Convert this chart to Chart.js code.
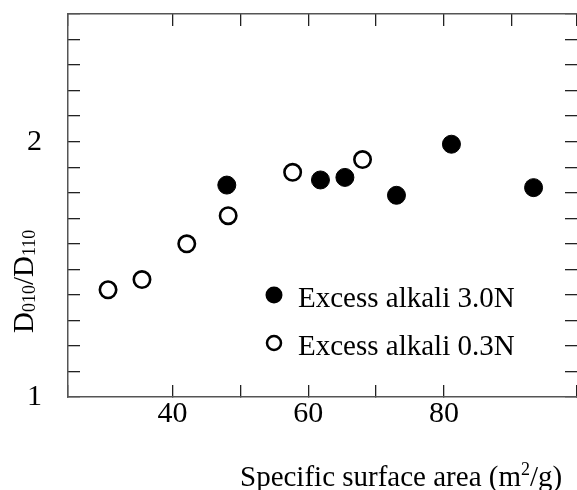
<!DOCTYPE html>
<html>
<head>
<meta charset="utf-8">
<script src="https://cdn.jsdelivr.net/npm/chart.js@4.4.1/dist/chart.umd.min.js"></script>
<style>
  html, body { margin: 0; padding: 0; background: #fff; }
  #wrap { width: 577px; height: 490px; }
</style>
</head>
<body>
<div id="wrap"><canvas id="ratioChart" width="577" height="490"></canvas></div>
<script>
// specific surface area (m2/g) vs D010/D110
const alkali30Area  = [48.0, 61.8, 65.4, 73.0, 81.1, 93.2];
const alkali30Ratio = [1.83, 1.85, 1.86, 1.79, 1.99, 1.82];
const alkali03Area  = [30.5, 35.5, 42.1, 48.2, 57.7, 68.0];
const alkali03Ratio = [1.42, 1.46, 1.60, 1.71, 1.88, 1.93];

const seriesLabels = ['Excess alkali 3.0N', 'Excess alkali 0.3N'];
const xTickLabels = [40, 60, 80];
const yTickLabels = [1, 2];

const SERIF = '"Liberation Serif", "Times New Roman", serif';

const toPoints = (xs, ys) => xs.map((x, i) => ({ x: x, y: ys[i] }));

// force scale box sizes so the plot area lands where the figure has it
const fixBox = (size) => (scale) => {
    if (scale.isHorizontal()) scale.height = size; else scale.width = size;
    scale.paddingTop = 0; scale.paddingBottom = 0;
    scale.paddingLeft = 0; scale.paddingRight = 0;
};

// inward tick marks on every side, no grid inside the plot
const tickGrid = { drawOnChartArea: false, drawTicks: true, tickLength: -12, color: '#222', lineWidth: 1.3 };
const axisBorder = { color: '#555', width: 1.5 };

function drawRuns(ctx, x, y, runs) {
    runs.forEach(([text, size, dy]) => {
        ctx.font = size + 'px ' + SERIF;
        ctx.fillText(text, x, y + dy);
        x += ctx.measureText(text).width;
    });
}

const annotationText = {
    id: 'annotationText',
    afterDraw(chart) {
        const ctx = chart.ctx;
        ctx.save();
        ctx.fillStyle = '#000';
        ctx.textBaseline = 'alphabetic';

        // x title with superscript
        drawRuns(ctx, 240, 486, [['Specific surface area (m', 29, 0], ['2', 18, -11], ['/g)', 29, 0]]);

        // legend
        chart.data.datasets.forEach((ds, i) => {
            const cy = 295 + i * 48;
            ctx.beginPath();
            if (i === 0) {
                ctx.arc(274, cy, 8.5, 0, Math.PI * 2);
                ctx.fillStyle = '#000';
                ctx.fill();
            } else {
                ctx.arc(274, cy, 7, 0, Math.PI * 2);
                ctx.fillStyle = '#fff';
                ctx.fill();
                ctx.lineWidth = 2.5;
                ctx.strokeStyle = '#000';
                ctx.stroke();
            }
            ctx.fillStyle = '#000';
            ctx.font = '29px ' + SERIF;
            ctx.fillText(ds.label, 298, cy + 11.5);
        });

        // y title, rotated, with subscripts
        ctx.translate(33, 333);
        ctx.rotate(-Math.PI / 2);
        drawRuns(ctx, 0, 0, [['D', 29, 0], ['010', 18, 2], ['/D', 29, 0], ['110', 18, 2]]);
        ctx.restore();
    }
};

const ratioChart = new Chart(document.getElementById('ratioChart'), {
    type: 'scatter',
    data: {
        datasets: [
            {
                label: seriesLabels[0],
                data: toPoints(alkali30Area, alkali30Ratio),
                backgroundColor: '#000', borderColor: '#000',
                pointRadius: 9, borderWidth: 1
            },
            {
                label: seriesLabels[1],
                data: toPoints(alkali03Area, alkali03Ratio),
                backgroundColor: '#fff', borderColor: '#000',
                pointRadius: 8.2, borderWidth: 2.6
            }
        ]
    },
    options: {
        responsive: false,
        animation: false,
        events: [],
        layout: { autoPadding: false, padding: { top: 14, right: 0, bottom: 0, left: 0 } },
        plugins: { legend: { display: false }, tooltip: { enabled: false } },
        scales: {
            x: {
                type: 'linear', position: 'bottom', min: 24.6, max: 99.6,
                ticks: {
                    stepSize: 10, autoSkip: false, maxRotation: 0, padding: 11,
                    color: '#000', font: { family: SERIF, size: 30 },
                    callback: v => xTickLabels.includes(v) ? String(v) : ''
                },
                grid: tickGrid, border: axisBorder,
                afterFit: fixBox(93)
            },
            x2: {
                type: 'linear', axis: 'x', position: 'top', min: 24.6, max: 99.6,
                ticks: { stepSize: 10, autoSkip: false, display: false },
                grid: tickGrid, border: axisBorder,
                afterFit: fixBox(0)
            },
            y: {
                type: 'linear', position: 'left', min: 1, max: 2.5,
                ticks: {
                    stepSize: 0.1, autoSkip: false, padding: 38,
                    color: '#000', font: { family: SERIF, size: 30 },
                    callback: v => yTickLabels.some(t => Math.abs(t - v) < 1e-6) ? String(Math.round(v)) : ''
                },
                grid: tickGrid, border: axisBorder,
                afterFit: fixBox(68)
            },
            y2: {
                // right frame edge falls just outside the picture, only its ticks show
                type: 'linear', axis: 'y', position: 'right', min: 1, max: 2.5,
                ticks: { stepSize: 0.1, autoSkip: false, display: false },
                grid: tickGrid, border: { display: false },
                afterFit: fixBox(0)
            }
        }
    },
    plugins: [annotationText]
});
</script>
</body>
</html>
